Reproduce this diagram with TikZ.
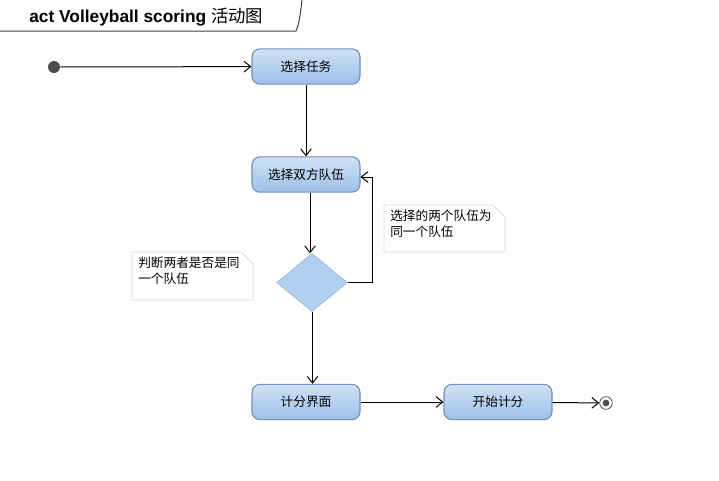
\documentclass[tikz,border=0pt]{standalone}
\usepackage{fontspec}
\setmainfont{Liberation Sans}
\newfontfamily\cjk{Noto Sans CJK SC}
\usetikzlibrary{arrows.meta,shapes.geometric}
\definecolor{boxtop}{HTML}{CFE1F4}
\definecolor{boxbot}{HTML}{9DC0E8}
\definecolor{boxline}{HTML}{6F90B8}
\definecolor{diafill}{HTML}{B1CFEE}
\definecolor{dialine}{HTML}{8FB0D6}
\definecolor{noteline}{HTML}{D8D8D8}
\tikzset{
  actbox/.style={draw=boxline, line width=0.8pt, rounded corners=6pt, top color=boxtop, bottom color=boxbot,
     minimum width=81pt, minimum height=26.5pt, inner sep=0pt, font=\cjk\fontsize{9.5}{11}\selectfont},
  decis/.style={diamond, draw=dialine, fill=diafill, minimum width=53pt, minimum height=43.5pt, inner sep=0pt, aspect=1.22},
  flow/.style={draw=black, line width=0.75pt, -{Straight Barb[length=5pt,width=8pt]}},
  notetext/.style={font=\cjk\fontsize{9.5}{11.5}\selectfont, align=left, anchor=north west, inner sep=0pt},
  notebox/.style={draw=noteline, fill=white, line width=0.6pt},
}
\begin{document}
\begin{tikzpicture}[x=0.75pt,y=-0.75pt]
\useasboundingbox (0,0) rectangle (719,480);
% title frame
\draw[black!75, line width=0.75pt] (0,31) -- (296,31) .. controls (299,25) and (301,10) .. (302,0);
\node[anchor=west, inner sep=0pt, font=\bfseries\fontsize{13}{15}\selectfont] (title) at (29,17) {act Volleyball scoring {\cjk\mdseries 活动图}};
% start
\node[circle, fill=black!70, minimum size=9pt, inner sep=0pt] (start) at (54,67) {};
% activities
\node[actbox] (t1) at (306,66.5) {选择任务};
\node[actbox] (t2) at (306,174.5) {选择双方队伍};
\node[decis] (d) at (312,282.5) {};
\node[actbox] (t3) at (306,402) {计分界面};
\node[actbox] (t4) at (498,402) {开始计分};
% end
\node[circle, draw=black!70, line width=0.6pt, minimum size=9.5pt, inner sep=0pt] (end) at (606,403) {};
\node[circle, fill=black!70, minimum size=5pt, inner sep=0pt] (endin) at (end.center) {};
% notes
\draw[notebox] (384,205) -- (493,205) -- (505,217) -- (505,252) -- (384,252) -- cycle;
\node[notetext] (n1) at (390,210) {选择的两个队伍为\\同一个队伍};
\draw[notebox] (132,252) -- (241,252) -- (253,264) -- (253,300) -- (132,300) -- cycle;
\node[notetext] (n2) at (138,257) {判断两者是否是同\\一个队伍};
% flows
\draw[flow] (start) -- (t1);
\draw[flow] (t1) -- (t2);
\draw[flow] (t2.south -| 310,0) -- (d.north -| 310,0);
\draw[flow] (d.east) -| (372,177) -- (t2.east |- 0,177);
\draw[flow] (d.south -| 312.5,0) -- (t3.north -| 312.5,0);
\draw[flow] (t3) -- (t4);
\draw[flow] (t4) -- (end);
\end{tikzpicture}
\end{document}
